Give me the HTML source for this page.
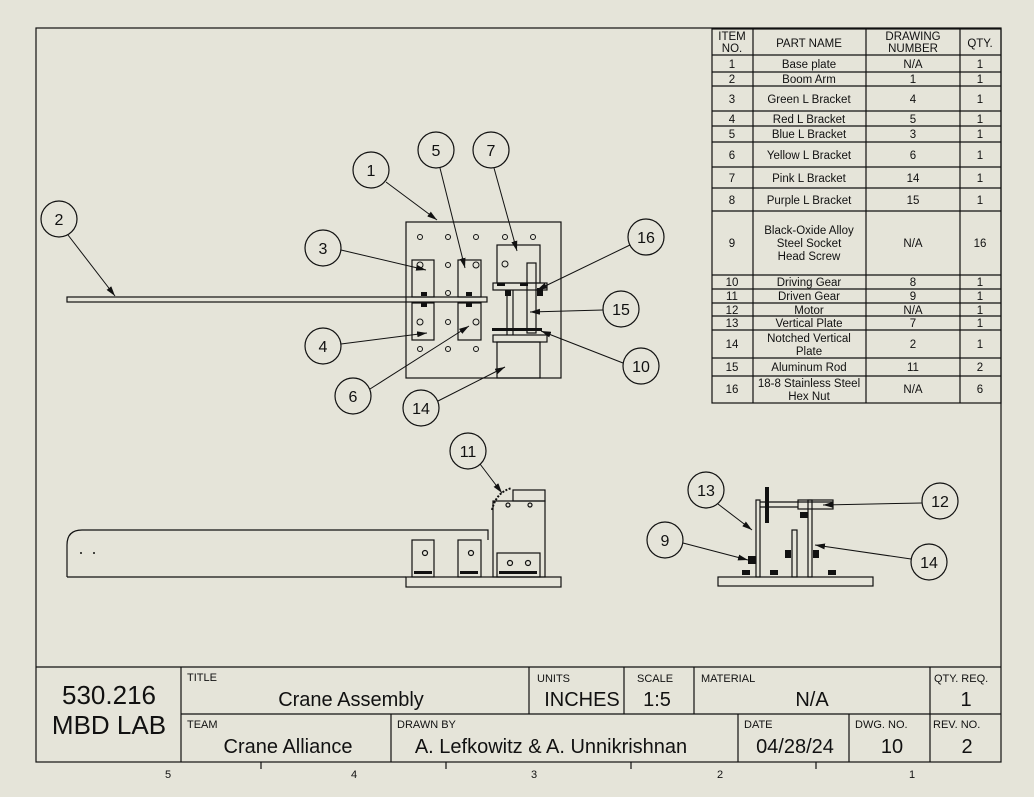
<!DOCTYPE html>
<html><head><meta charset="utf-8"><style>
html,body{margin:0;padding:0;background:#e5e4d9;}
svg{display:block;font-family:"Liberation Sans",sans-serif;}
text{fill:#111;}
</style></head><body>
<svg width="1034" height="797" viewBox="0 0 1034 797" xmlns="http://www.w3.org/2000/svg">
<defs><marker id="a" viewBox="0 0 10 6" refX="10" refY="3" markerWidth="10" markerHeight="6" orient="auto" markerUnits="userSpaceOnUse"><path d="M0 0L10 3L0 6Z" fill="#111"/></marker></defs>
<rect width="1034" height="797" fill="#e5e4d9"/>
<g fill="none" stroke="#111" stroke-width="1.2">
<rect x="36" y="28" width="965" height="734"/>
<rect x="712" y="29" width="289" height="374"/>
<line x1="753" y1="29" x2="753" y2="403"/><line x1="866" y1="29" x2="866" y2="403"/><line x1="960" y1="29" x2="960" y2="403"/>
<path d="M712 55H1001M712 72H1001M712 86H1001M712 111H1001M712 126H1001M712 142H1001M712 167H1001M712 188H1001M712 211H1001M712 275H1001M712 289H1001M712 303H1001M712 316H1001M712 330H1001M712 358H1001M712 376H1001"/>
<line x1="36" y1="667" x2="1001" y2="667"/>
<line x1="181" y1="667" x2="181" y2="762"/>
<line x1="181" y1="714" x2="1001" y2="714"/>
<path d="M529 667V714M624 667V714M694 667V714M930 667V762M391 714V762M738 714V762M849 714V762"/>
<path d="M261 762V769M446 762V769M631 762V769M816 762V769"/>
<rect x="406" y="222" width="155" height="156"/>
<rect x="67" y="297" width="420" height="5"/>
<rect x="412" y="260" width="22" height="37"/><rect x="412" y="303" width="22" height="37"/>
<rect x="458" y="260" width="23" height="37"/><rect x="458" y="303" width="23" height="37"/>
<rect x="497" y="245" width="43" height="38"/><rect x="493" y="283" width="54" height="7"/>
<rect x="493" y="335" width="54" height="7"/><rect x="497" y="342" width="43" height="36"/>
<rect x="527" y="263" width="9" height="70"/>
<line x1="507" y1="290" x2="507" y2="335"/><line x1="513" y1="290" x2="513" y2="335"/>
<g stroke-width="1">
<circle cx="420" cy="237" r="2.5"/><circle cx="448" cy="237" r="2.5"/><circle cx="476" cy="237" r="2.5"/><circle cx="505" cy="237" r="2.5"/><circle cx="533" cy="237" r="2.5"/>
<circle cx="448" cy="265" r="2.5"/><circle cx="448" cy="293" r="2.5"/><circle cx="448" cy="322" r="2.5"/>
<circle cx="420" cy="349" r="2.5"/><circle cx="448" cy="349" r="2.5"/><circle cx="476" cy="349" r="2.5"/>
<circle cx="505" cy="264" r="3"/><circle cx="420" cy="322" r="3"/><circle cx="476" cy="322" r="3"/><circle cx="420" cy="265" r="3"/><circle cx="476" cy="265" r="3"/>
</g>
<path d="M67 577V545Q67 530 82 530H488V540"/>
<line x1="67" y1="577" x2="406" y2="577"/>
<rect x="406" y="577" width="155" height="10"/>
<rect x="412" y="540" width="22" height="37"/><rect x="458" y="540" width="23" height="37"/>
<rect x="493" y="501" width="52" height="76"/><rect x="513" y="490" width="32" height="11"/>
<rect x="497" y="553" width="43" height="24"/>
<path d="M492 510Q496 492 512 488" stroke-dasharray="2 1.5" stroke-width="2"/>
<circle cx="425" cy="553" r="2.5"/><circle cx="471" cy="553" r="2.5"/><circle cx="510" cy="563" r="2.5"/><circle cx="528" cy="563" r="2.5"/>
<circle cx="508" cy="505" r="2"/><circle cx="530" cy="505" r="2"/>
<rect x="718" y="577" width="155" height="9"/>
<rect x="756" y="500" width="4" height="77"/><rect x="808" y="500" width="4" height="77"/>
<rect x="792" y="530" width="5" height="47"/>
<line x1="760" y1="502" x2="833" y2="502"/><line x1="760" y1="507" x2="798" y2="507"/>
<rect x="798" y="500" width="35" height="9"/>
<circle cx="371" cy="170" r="18"/><circle cx="436" cy="150" r="18"/><circle cx="491" cy="150" r="18"/>
<circle cx="59" cy="219" r="18"/><circle cx="323" cy="248" r="18"/><circle cx="646" cy="237" r="18"/>
<circle cx="621" cy="309" r="18"/><circle cx="323" cy="346" r="18"/><circle cx="641" cy="366" r="18"/>
<circle cx="353" cy="396" r="18"/><circle cx="421" cy="408" r="18"/><circle cx="468" cy="451" r="18"/>
<circle cx="706" cy="490" r="18"/><circle cx="940" cy="501" r="18"/><circle cx="665" cy="540" r="18"/><circle cx="929" cy="562" r="18"/>
<g stroke-width="1" marker-end="url(#a)">
<path d="M386 182L437 220"/><path d="M440 168L465 268"/><path d="M494 168L517 251"/><path d="M68 235L115 296"/><path d="M341 250L426 270"/><path d="M630 245L537 290"/><path d="M603 310L530 312"/><path d="M341 344L427 333"/><path d="M623 363L541 331"/><path d="M370 389L469 326"/><path d="M438 401L505 367"/><path d="M480 464L502 493"/><path d="M718 504L752 530"/><path d="M922 503L823 505"/><path d="M683 543L748 560"/><path d="M911 559L815 545"/>
</g>
</g>
<g fill="#111">
<rect x="497" y="283" width="8" height="3"/><rect x="520" y="283" width="8" height="3"/>
<rect x="505" y="290" width="6" height="6"/><rect x="537" y="288" width="6" height="8"/>
<rect x="492" y="328" width="50" height="3"/>
<rect x="421" y="292" width="6" height="4"/><rect x="466" y="292" width="6" height="4"/>
<rect x="421" y="303" width="6" height="4"/><rect x="466" y="303" width="6" height="4"/>
<rect x="765" y="487" width="4" height="36"/><rect x="800" y="512" width="8" height="6"/>
<rect x="748" y="556" width="8" height="8"/><rect x="785" y="550" width="6" height="8"/>
<rect x="813" y="550" width="6" height="8"/><rect x="742" y="570" width="8" height="5"/><rect x="770" y="570" width="8" height="5"/><rect x="828" y="570" width="8" height="5"/>
<rect x="414" y="571" width="18" height="3"/><rect x="460" y="571" width="18" height="3"/><rect x="499" y="571" width="38" height="3"/>
<circle cx="94" cy="553" r="1"/><circle cx="81" cy="553" r="1"/>
</g>
<g font-size="16" text-anchor="middle">
<text x="371" y="176">1</text><text x="436" y="156">5</text><text x="491" y="156">7</text>
<text x="59" y="225">2</text><text x="323" y="254">3</text><text x="646" y="243">16</text>
<text x="621" y="315">15</text><text x="323" y="352">4</text><text x="641" y="372">10</text>
<text x="353" y="402">6</text><text x="421" y="414">14</text><text x="468" y="457">11</text>
<text x="706" y="496">13</text><text x="940" y="507">12</text><text x="665" y="546">9</text><text x="929" y="568">14</text>
</g>
<g font-size="11.5" text-anchor="middle">
<text x="732" y="40">ITEM</text><text x="732" y="52">NO.</text>
<text x="809" y="47">PART NAME</text>
<text x="913" y="40">DRAWING</text><text x="913" y="52">NUMBER</text>
<text x="980" y="47">QTY.</text>
<text x="732" y="68">1</text><text x="809" y="68">Base plate</text><text x="913" y="68">N/A</text><text x="980" y="68">1</text>
<text x="732" y="83">2</text><text x="809" y="83">Boom Arm</text><text x="913" y="83">1</text><text x="980" y="83">1</text>
<text x="732" y="103">3</text><text x="809" y="103">Green L Bracket</text><text x="913" y="103">4</text><text x="980" y="103">1</text>
<text x="732" y="123">4</text><text x="809" y="123">Red L Bracket</text><text x="913" y="123">5</text><text x="980" y="123">1</text>
<text x="732" y="138">5</text><text x="809" y="138">Blue L Bracket</text><text x="913" y="138">3</text><text x="980" y="138">1</text>
<text x="732" y="159">6</text><text x="809" y="159">Yellow L Bracket</text><text x="913" y="159">6</text><text x="980" y="159">1</text>
<text x="732" y="182">7</text><text x="809" y="182">Pink L Bracket</text><text x="913" y="182">14</text><text x="980" y="182">1</text>
<text x="732" y="204">8</text><text x="809" y="204">Purple L Bracket</text><text x="913" y="204">15</text><text x="980" y="204">1</text>
<text x="732" y="247">9</text><text x="809" y="234">Black-Oxide Alloy</text><text x="809" y="247">Steel Socket</text><text x="809" y="260">Head Screw</text><text x="913" y="247">N/A</text><text x="980" y="247">16</text>
<text x="732" y="286">10</text><text x="809" y="286">Driving Gear</text><text x="913" y="286">8</text><text x="980" y="286">1</text>
<text x="732" y="300">11</text><text x="809" y="300">Driven Gear</text><text x="913" y="300">9</text><text x="980" y="300">1</text>
<text x="732" y="314">12</text><text x="809" y="314">Motor</text><text x="913" y="314">N/A</text><text x="980" y="314">1</text>
<text x="732" y="327">13</text><text x="809" y="327">Vertical Plate</text><text x="913" y="327">7</text><text x="980" y="327">1</text>
<text x="732" y="348">14</text><text x="809" y="342">Notched Vertical</text><text x="809" y="355">Plate</text><text x="913" y="348">2</text><text x="980" y="348">1</text>
<text x="732" y="371">15</text><text x="809" y="371">Aluminum Rod</text><text x="913" y="371">11</text><text x="980" y="371">2</text>
<text x="732" y="393">16</text><text x="809" y="387">18-8 Stainless Steel</text><text x="809" y="400">Hex Nut</text><text x="913" y="393">N/A</text><text x="980" y="393">6</text>
</g>
<g font-size="11">
<text x="187" y="681">TITLE</text><text x="537" y="682">UNITS</text><text x="637" y="682">SCALE</text><text x="701" y="682">MATERIAL</text><text x="934" y="682">QTY. REQ.</text>
<text x="187" y="728">TEAM</text><text x="397" y="728">DRAWN BY</text><text x="744" y="728">DATE</text><text x="855" y="728">DWG. NO.</text><text x="933" y="728">REV. NO.</text>
</g>
<g font-size="20" text-anchor="middle">
<text x="351" y="706">Crane Assembly</text><text x="582" y="706">INCHES</text><text x="657" y="706">1:5</text><text x="812" y="706">N/A</text><text x="966" y="706">1</text>
<text x="288" y="753">Crane Alliance</text><text x="551" y="753">A. Lefkowitz &amp; A. Unnikrishnan</text><text x="795" y="753">04/28/24</text><text x="892" y="753">10</text><text x="967" y="753">2</text>
</g>
<g font-size="26" text-anchor="middle">
<text x="109" y="704">530.216</text><text x="109" y="734">MBD LAB</text>
</g>
<g font-size="11" text-anchor="middle">
<text x="168" y="778">5</text><text x="354" y="778">4</text><text x="534" y="778">3</text><text x="720" y="778">2</text><text x="912" y="778">1</text>
</g>
</svg>
</body></html>
